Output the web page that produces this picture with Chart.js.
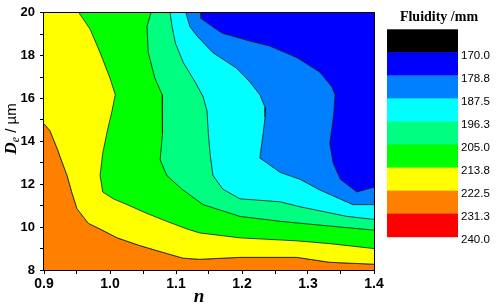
<!DOCTYPE html>
<html>
<head>
<meta charset="utf-8">
<script src="https://cdn.jsdelivr.net/npm/chart.js@4/dist/chart.umd.min.js"></script>
<style>
    html, body { margin: 0; padding: 0; background: #ffffff; }
    #box { width: 498px; height: 306px; }
</style>
</head>
<body>
<div id="box"><canvas id="plot" width="498" height="306"></canvas></div>
<script>
// Contour boundaries, [n, De] pairs
const lineOrangeYellow = [[0.9, 14.82], [0.909, 14.5], [0.921, 13.59], [0.924, 13.32], [0.935, 12.41], [0.942, 11.64],
    [0.95, 10.86], [0.967, 10.18], [0.985, 9.91], [1.011, 9.5], [1.045, 9.14], [1.086, 8.77], [1.111, 8.55],
    [1.136, 8.5], [1.197, 8.59], [1.283, 8.59], [1.333, 8.36], [1.4, 8.27]];
const lineYellowGreen = [[0.953, 20], [0.97, 19.23], [0.985, 18.14], [1.0, 16.95], [1.008, 16.18], [1.003, 15.41],
    [0.996, 14.5], [0.989, 13.45], [0.985, 12.41], [0.989, 11.64], [1.005, 11.32], [1.026, 11.05], [1.056, 10.64],
    [1.086, 10.27], [1.117, 9.91], [1.136, 9.73], [1.197, 9.5], [1.283, 9.36], [1.333, 9.23], [1.4, 9.0]];
const lineGreenSpring = [[1.062, 20], [1.056, 19.36], [1.058, 18.14], [1.068, 16.95], [1.079, 16.18], [1.08, 15.41],
    [1.079, 14.36], [1.076, 13.14], [1.086, 12.41], [1.109, 11.77], [1.141, 11.05], [1.197, 10.5], [1.258, 10.27],
    [1.333, 10.05], [1.4, 9.86]];
const lineSpringCyan = [[1.091, 20], [1.094, 19.36], [1.099, 18.59], [1.111, 17.68], [1.129, 16.77], [1.141, 16.09],
    [1.147, 15.41], [1.149, 14.36], [1.152, 13.32], [1.156, 12.41], [1.171, 11.77], [1.197, 11.32], [1.258, 11.18],
    [1.288, 10.95], [1.359, 10.5], [1.4, 10.36]];
const lineCyanAzure = [[1.115, 20], [1.121, 19.36], [1.132, 18.91], [1.156, 18.14], [1.192, 17.41], [1.212, 16.77],
    [1.227, 16.18], [1.235, 15.59], [1.235, 15.14], [1.232, 14.36], [1.227, 13.23], [1.258, 12.55], [1.288, 12.23],
    [1.318, 11.73], [1.368, 11.05], [1.4, 11.05]];
const lineAzureBlue = [[1.138, 20], [1.138, 19.73], [1.155, 19.36], [1.17, 19.05], [1.212, 18.68], [1.242, 18.45],
    [1.283, 17.91], [1.318, 17.23], [1.336, 16.55], [1.341, 16.18], [1.339, 15.27], [1.333, 13.91], [1.338, 13.0],
    [1.349, 12.23], [1.374, 11.64], [1.4, 11.86]];

// Colour bar
const levelColors = ["#000000", "#0000ff", "#0080ff", "#00ffff", "#00ff80", "#00ff00", "#ffff00", "#ff8000", "#ff0000"];
const levelLabels = ["170.0", "178.8", "187.5", "196.3", "205.0", "213.8", "222.5", "231.3", "240.0"];

// Axis ranges
const nMin = 0.9, nMax = 1.4;
const deMin = 8, deMax = 20;

// Region above-right of a boundary (closed through points outside the plot)
function upperRegion(line) {
    const last = line[line.length - 1];
    const first = line[0];
    const pts = line.map(p => ({x: p[0], y: p[1]}));
    pts.push({x: nMax + 0.1, y: last[1]});
    pts.push({x: nMax + 0.1, y: deMax + 1});
    pts.push({x: first[0] - (first[1] >= deMax ? 0 : 0.1), y: deMax + 1});
    pts.push({x: first[0] - (first[1] >= deMax ? 0 : 0.1), y: first[1]});
    pts.push({x: first[0], y: first[1]});
    return pts;
}

function lowerRegion(line) {
    const last = line[line.length - 1];
    const first = line[0];
    const pts = line.map(p => ({x: p[0], y: p[1]}));
    pts.push({x: nMax + 0.1, y: last[1]});
    pts.push({x: nMax + 0.1, y: deMin - 1});
    pts.push({x: nMin - 0.1, y: deMin - 1});
    pts.push({x: nMin - 0.1, y: first[1]});
    pts.push({x: first[0], y: first[1]});
    return pts;
}

function region(data, color, order) {
    return {
        data: data,
        showLine: true,
        fill: "shape",
        backgroundColor: color,
        borderColor: "#1a1a1a",
        borderWidth: 0.8,
        pointRadius: 0,
        tension: 0,
        order: order
    };
}

const datasets = [
    region(upperRegion(lineAzureBlue), "#0000ff", 1),
    region(upperRegion(lineCyanAzure), "#0080ff", 2),
    region(upperRegion(lineSpringCyan), "#00ffff", 3),
    region(upperRegion(lineGreenSpring), "#00ff80", 4),
    region(upperRegion(lineYellowGreen), "#00ff00", 5),
    region(upperRegion(lineOrangeYellow), "#ffff00", 6),
    region(lowerRegion(lineOrangeYellow), "#ff8000", 7)
];

// Frame, axis titles and colour bar
const extras = {
    id: "extras",
    afterDatasetsDraw(chart) {
        const ctx = chart.ctx;
        const a = chart.chartArea;
        ctx.save();
        ctx.strokeStyle = "#000";
        ctx.lineWidth = 1;
        ctx.strokeRect(Math.round(a.left) - 0.5, Math.round(a.top) - 0.5,
            Math.round(a.right - a.left) + 1, Math.round(a.bottom - a.top) + 1);
        ctx.restore();
    },
    afterDraw(chart) {
        const ctx = chart.ctx;
        ctx.save();
        ctx.fillStyle = "#000";

        // x title
        ctx.font = "bold italic 19px 'Liberation Serif'";
        ctx.textAlign = "center";
        ctx.textBaseline = "alphabetic";
        ctx.fillText("n", 199, 302);

        // y title
        ctx.translate(16, 129);
        ctx.rotate(-Math.PI / 2);
        const partD = "D", partE = "e", partU = " / \u00b5m";
        ctx.font = "bold italic 17px 'Liberation Serif'";
        const wD = ctx.measureText(partD).width;
        ctx.font = "italic 12px 'Liberation Serif'";
        const wE = ctx.measureText(partE).width;
        ctx.font = "15px 'Liberation Sans'";
        const wU = ctx.measureText(partU).width;
        let x0 = -(wD + wE + wU) / 2;
        ctx.textAlign = "left";
        ctx.font = "bold italic 17px 'Liberation Serif'";
        ctx.fillText(partD, x0, 0);
        ctx.font = "italic 12px 'Liberation Serif'";
        ctx.fillText(partE, x0 + wD, 3);
        ctx.font = "15px 'Liberation Sans'";
        ctx.fillText(partU, x0 + wD + wE, 0);
        ctx.restore();

        // colour bar
        ctx.save();
        const barLeft = 387, barRight = 458, barTop = 29.3, barBottom = 236.7;
        const step = (barBottom - barTop) / levelColors.length;
        for (let i = 0; i < levelColors.length; i++) {
            ctx.fillStyle = levelColors[i];
            ctx.fillRect(barLeft, barTop + i * step, barRight - barLeft, step + 0.5);
        }
        ctx.fillStyle = "#000";
        ctx.font = "11.5px 'Liberation Sans'";
        ctx.textAlign = "left";
        ctx.textBaseline = "middle";
        for (let i = 0; i < levelLabels.length; i++) {
            ctx.fillText(levelLabels[i], 461, barTop + (i + 1) * step + 3.5);
        }
        ctx.font = "bold 14px 'Liberation Serif'";
        ctx.textAlign = "center";
        ctx.textBaseline = "alphabetic";
        ctx.fillText("Fluidity /mm", 439, 21);
        ctx.restore();
    }
};

const chart = new Chart(document.getElementById("plot"), {
    type: "scatter",
    data: { datasets: datasets },
    options: {
        responsive: false,
        animation: false,
        layout: { padding: { left: 0, top: 6, right: 124, bottom: 0 } },
        plugins: {
            legend: { display: false },
            tooltip: { enabled: false }
        },
        scales: {
            x: {
                type: "linear",
                min: nMin,
                max: nMax,
                afterFit: (scale) => { scale.height = 36; },
                ticks: {
                    stepSize: 0.05,
                    autoSkip: false,
                    maxRotation: 0,
                    padding: 2,
                    color: "#000",
                    font: { family: "'Liberation Sans'", size: 14, weight: "bold" },
                    callback: (v) => Math.round(v * 100) % 10 === 0 ? v.toFixed(1) : ""
                },
                grid: { drawOnChartArea: false, tickLength: 4, tickColor: "#000" },
                border: { color: "#000", width: 1 }
            },
            y: {
                type: "linear",
                min: deMin,
                max: deMax,
                afterFit: (scale) => { scale.width = 44; },
                ticks: {
                    stepSize: 1,
                    autoSkip: false,
                    padding: 5,
                    color: "#000",
                    font: { family: "'Liberation Sans'", size: 13, weight: "bold" },
                    callback: (v) => v % 2 === 0 ? String(v) : ""
                },
                grid: { drawOnChartArea: false, tickLength: 4, tickColor: "#000" },
                border: { color: "#000", width: 1 }
            }
        }
    },
    plugins: [extras]
});
</script>
</body>
</html>
